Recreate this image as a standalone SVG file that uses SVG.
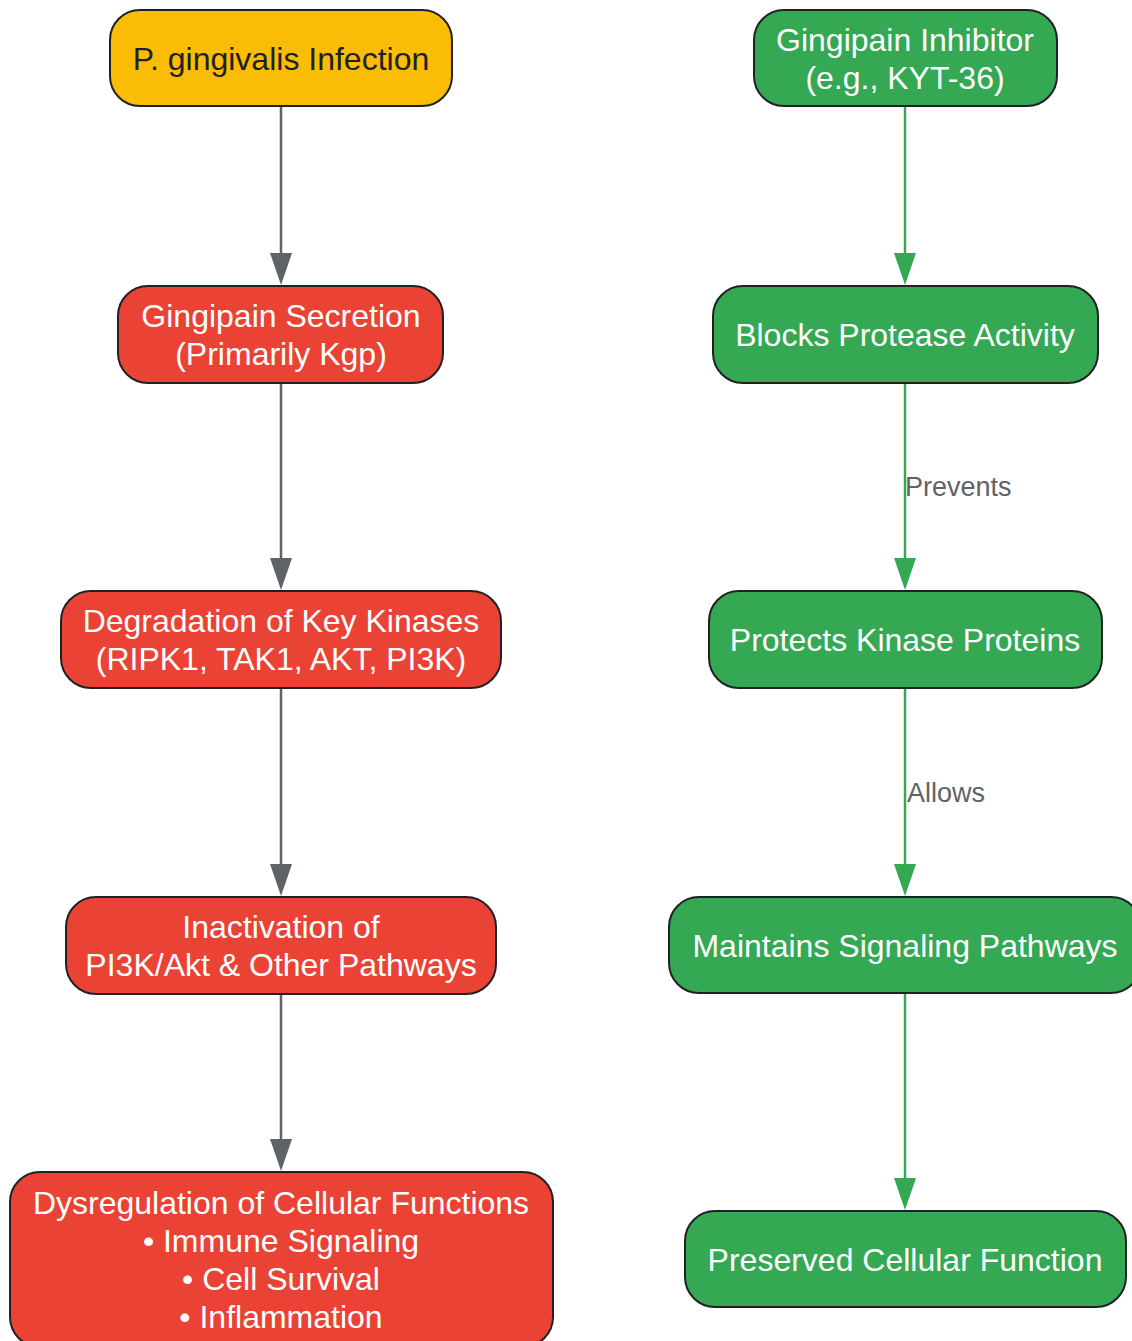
<svg xmlns="http://www.w3.org/2000/svg" width="1132" height="1341" viewBox="0 0 1132 1341">
<style>
  .node rect { stroke: #202124; stroke-width: 2; }
  .red rect { fill: #EA4335; }
  .green rect { fill: #34A853; }
  .yellow rect { fill: #FBBC05; }
  .node text { font-family: "Liberation Sans", Arial, sans-serif; font-size: 32px; text-anchor: middle; fill: #FFFFFF; }
  .yellow text { fill: #202124; }
  .gray { stroke: #5F6368; stroke-width: 2.5; fill: none; }
  .grn { stroke: #34A853; stroke-width: 2.5; fill: none; }
  .elabel { font-family: "Liberation Sans", Arial, sans-serif; font-size: 27px; fill: #5F6368; }
</style>
<rect width="1132" height="1341" fill="#FFFFFF"/>
<g id="connectors">
  <line class="gray" x1="281" y1="106" x2="281" y2="254"/>
  <path d="M270,253 L292,253 L281,285 Z" fill="#5F6368"/>
  <line class="gray" x1="281" y1="383" x2="281" y2="559"/>
  <path d="M270,558 L292,558 L281,590 Z" fill="#5F6368"/>
  <line class="gray" x1="281" y1="688" x2="281" y2="865"/>
  <path d="M270,864 L292,864 L281,896 Z" fill="#5F6368"/>
  <line class="gray" x1="281" y1="994" x2="281" y2="1140"/>
  <path d="M270,1139 L292,1139 L281,1171 Z" fill="#5F6368"/>
  <line class="grn" x1="905" y1="106" x2="905" y2="254"/>
  <path d="M894,253 L916,253 L905,285 Z" fill="#34A853"/>
  <line class="grn" x1="905" y1="383" x2="905" y2="559"/>
  <path d="M894,558 L916,558 L905,590 Z" fill="#34A853"/>
  <text class="elabel" x="905" y="496">Prevents</text>
  <line class="grn" x1="905" y1="688" x2="905" y2="865"/>
  <path d="M894,864 L916,864 L905,896 Z" fill="#34A853"/>
  <text class="elabel" x="907" y="802">Allows</text>
  <line class="grn" x1="905" y1="993" x2="905" y2="1179"/>
  <path d="M894,1178 L916,1178 L905,1210 Z" fill="#34A853"/>
</g>
<g id="infection" class="node yellow">
  <rect x="110" y="10" width="342" height="96" rx="30"/>
  <text x="281" y="70">P. gingivalis Infection</text>
</g>
<g id="secretion" class="node red">
  <rect x="118" y="286" width="325" height="97" rx="30"/>
  <text x="281" y="327">Gingipain Secretion</text>
  <text x="281" y="365">(Primarily Kgp)</text>
</g>
<g id="degradation" class="node red">
  <rect x="61" y="591" width="440" height="97" rx="30"/>
  <text x="281" y="632">Degradation of Key Kinases</text>
  <text x="281" y="670">(RIPK1, TAK1, AKT, PI3K)</text>
</g>
<g id="inactivation" class="node red">
  <rect x="66" y="897" width="430" height="97" rx="30"/>
  <text x="281" y="938">Inactivation of</text>
  <text x="281" y="976">PI3K/Akt &amp; Other Pathways</text>
</g>
<g id="dysregulation" class="node red">
  <rect x="10" y="1172" width="543" height="175" rx="30"/>
  <text x="281" y="1214">Dysregulation of Cellular Functions</text>
  <text x="281" y="1252">• Immune Signaling</text>
  <text x="281" y="1290">• Cell Survival</text>
  <text x="281" y="1328">• Inflammation</text>
</g>
<g id="inhibitor" class="node green">
  <rect x="754" y="10" width="303" height="96" rx="30"/>
  <text x="905" y="51">Gingipain Inhibitor</text>
  <text x="905" y="89">(e.g., KYT-36)</text>
</g>
<g id="blocks" class="node green">
  <rect x="713" y="286" width="385" height="97" rx="30"/>
  <text x="905" y="346">Blocks Protease Activity</text>
</g>
<g id="protects" class="node green">
  <rect x="709" y="591" width="393" height="97" rx="30"/>
  <text x="905" y="651">Protects Kinase Proteins</text>
</g>
<g id="maintains" class="node green">
  <rect x="669" y="897" width="472" height="96" rx="30"/>
  <text x="905" y="957">Maintains Signaling Pathways</text>
</g>
<g id="preserved" class="node green">
  <rect x="685" y="1211" width="441" height="96" rx="30"/>
  <text x="905" y="1271">Preserved Cellular Function</text>
</g>
</svg>
